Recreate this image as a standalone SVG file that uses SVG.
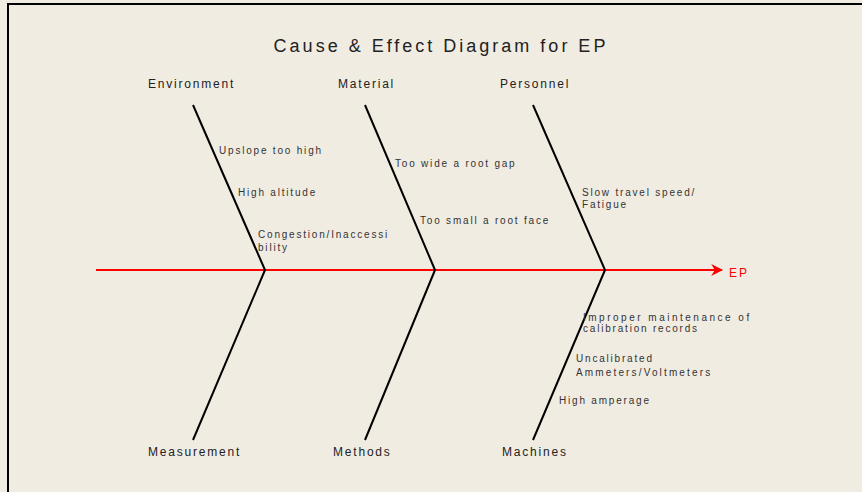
<svg xmlns="http://www.w3.org/2000/svg" width="862" height="492" viewBox="0 0 862 492">
<defs>
<style>
.bg{fill:#f0ece2}
.frame{fill:none;stroke:#000;stroke-width:2}
.title{font-family:"Liberation Sans",Arial,sans-serif;font-size:18px;letter-spacing:3px;fill:#222}
.cat{font-family:"Liberation Sans",Arial,sans-serif;font-size:12px;letter-spacing:1.8px;fill:#222}
.cause{font-family:"Liberation Sans",Arial,sans-serif;font-size:10px;letter-spacing:1.8px;fill:#333}
.bone{stroke:#000;stroke-width:2;fill:none}
.spine{stroke:#ff0000;stroke-width:2;fill:none}
.effect{font-family:"Liberation Sans",Arial,sans-serif;font-size:12px;letter-spacing:2px;fill:#ff0000}
</style>
<marker id="arr" viewBox="0 0 10 10" refX="9" refY="5" markerWidth="6" markerHeight="6" orient="auto" markerUnits="strokeWidth">
<path d="M0,0 L10,5 L0,10 L3,5 z" fill="#ff0000"/>
</marker>
</defs>
<rect class="bg" x="0" y="0" width="862" height="492"/>
<path class="frame" d="M8,492 V4 H862"/>
<text class="title" x="441" y="52" text-anchor="middle">Cause &amp; Effect Diagram for EP</text>

<g id="connectors">
<line class="spine" x1="96" y1="270" x2="722" y2="270" marker-end="url(#arr)"/>
<line class="bone" x1="193" y1="105" x2="265" y2="270"/>
<line class="bone" x1="365" y1="105" x2="435" y2="270"/>
<line class="bone" x1="533" y1="105" x2="605" y2="270"/>
<line class="bone" x1="265" y1="270" x2="193" y2="440"/>
<line class="bone" x1="435" y1="270" x2="365" y2="440"/>
<line class="bone" x1="605" y1="270" x2="533" y2="440"/>
</g>

<g id="effect"><text class="effect" x="729" y="277">EP</text></g>

<g id="environment">
<text class="cat" x="148" y="88">Environment</text>
<text class="cause" x="219" y="154">Upslope too high</text>
<text class="cause" x="238" y="196">High altitude</text>
<text class="cause" x="258" y="238">Congestion/Inaccessi</text>
<text class="cause" x="258" y="251">bility</text>
</g>
<g id="material">
<text class="cat" x="338" y="88">Material</text>
<text class="cause" x="395" y="167">Too wide a root gap</text>
<text class="cause" x="420" y="224">Too small a root face</text>
</g>
<g id="personnel">
<text class="cat" x="500" y="88">Personnel</text>
<text class="cause" x="582" y="196">Slow travel speed/</text>
<text class="cause" x="582" y="208">Fatigue</text>
</g>
<g id="measurement">
<text class="cat" x="148" y="456">Measurement</text>
</g>
<g id="methods">
<text class="cat" x="333" y="456">Methods</text>
</g>
<g id="machines">
<text class="cat" x="502" y="456">Machines</text>
<text class="cause" x="583" y="321" textLength="168" lengthAdjust="spacing">Improper maintenance of</text>
<text class="cause" x="583" y="332">calibration records</text>
<text class="cause" x="576" y="362">Uncalibrated</text>
<text class="cause" x="576" y="376" textLength="136" lengthAdjust="spacing">Ammeters/Voltmeters</text>
<text class="cause" x="559" y="404">High amperage</text>
</g>
</svg>
